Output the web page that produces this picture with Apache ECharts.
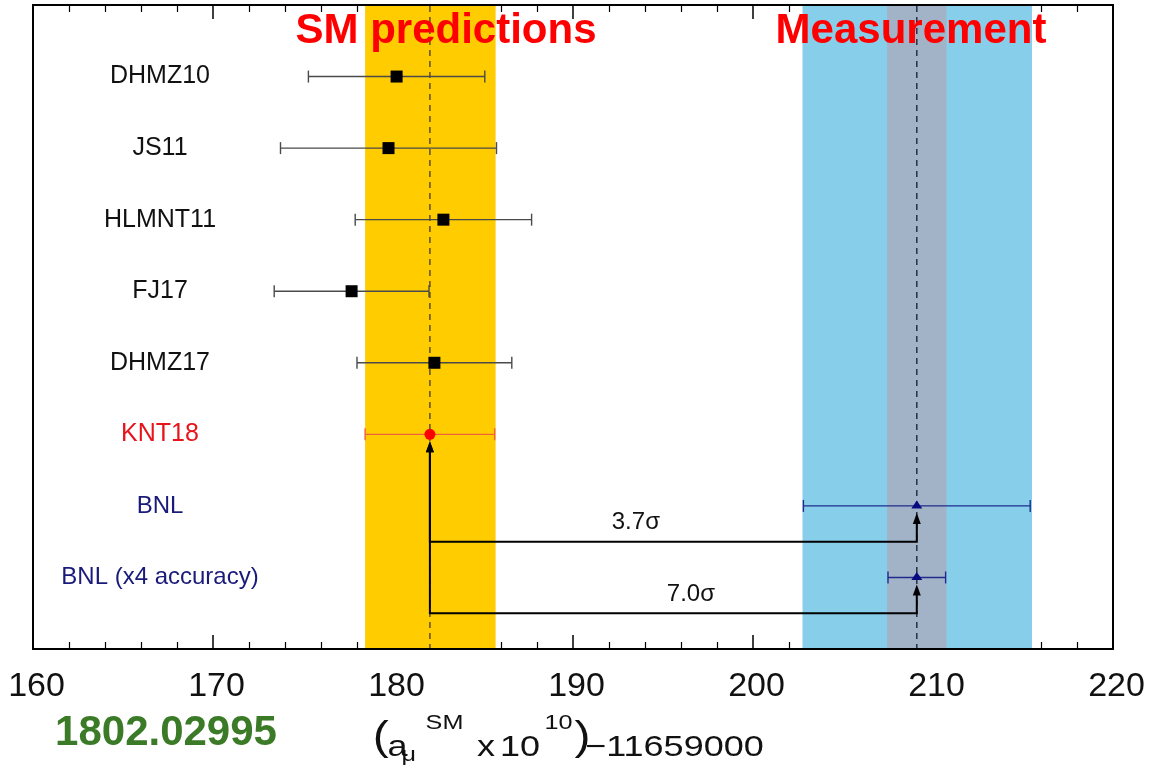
<!DOCTYPE html>
<html>
<head>
<meta charset="utf-8">
<title>Muon g-2: SM predictions vs measurement</title>
<script src="https://cdn.jsdelivr.net/npm/echarts/dist/echarts.min.js"></script>
<style>
  html, body { margin: 0; padding: 0; background: #fff; }
  #chart { width: 1150px; height: 768px; }
</style>
</head>
<body>
<div id="chart"></div>
<script>
// ---- data ---------------------------------------------------------------
const rowLabels = ['DHMZ10', 'JS11', 'HLMNT11', 'FJ17', 'DHMZ17', 'KNT18', 'BNL', 'BNL (x4 accuracy)'];
const rowGroups = ['other', 'other', 'other', 'other', 'other', 'sm', 'exp', 'exp'];
const centralValues = [180.2, 179.75, 182.8, 177.7, 182.3, 182.05, 209.1, 209.1];
const uncertainties = [4.9, 6.0, 4.9, 4.3, 4.3, 3.6, 6.3, 1.6];

// shaded bands: SM (KNT18) 1σ, BNL 1σ, BNL with 4x accuracy
const bandLow  = [178.45, 202.75, 207.45];
const bandHigh = [185.7, 215.5, 210.75];
const bandKinds = ['sm', 'exp', 'expX4'];

// dashed reference lines through these rows' central values
const referenceRows = [5, 6];

// tension brackets between the SM value and the measurement
const tensionFrom = [5, 5];
const tensionTo = [6, 7];
const tensionLabels = ['3.7σ', '7.0σ'];

const xMin = 160, xMax = 220, xStep = 10;
const headings = ['SM predictions', 'Measurement'];
const arxivId = '1802.02995';

// axis title pieces: text, role (n = normal, p = paren, sub, sup)
const titlePieces = ['(', 'a', 'μ', 'SM', 'x', '10', '10', ')', '−11659000'];
const titleRoles  = ['p', 'n', 'sub', 'sup', 'n', 'n', 'sup', 'p', 'n'];

// ---- styling / layout ----------------------------------------------------
const FONT = "'Liberation Sans', Arial, Helvetica, sans-serif";
const GRID = { left: 33, top: 5, width: 1080, height: 644 };
const ROW_LABEL_OFFSET = 127;            // px from plot left to row-label centre
const SIGMA_LABEL_FRAC = [0.423, 0.536]; // label position along each bracket
const BAND_COLORS = { sm: '#ffcc00', exp: '#87ceeb', expX4: '#a2b3c8' };
const GROUP_STYLE = {
  other: { bar: '#4a4a4a', marker: '#000000', text: '#111111', shape: 'square' },
  sm:    { bar: '#f0623a', marker: '#ff0000', text: '#e8141c', shape: 'circle' },
  exp:   { bar: '#1f2b8c', marker: '#0a0a80', text: '#1a1a7a', shape: 'triangle' }
};
const REF_LINE_COLORS = ['#5e4c18', '#26304a'];
// axis-title piece layout (local units, group is stretched horizontally)
const TITLE_X = [-3.5, 8.7, 20.5, 40.5, 83.3, 102.5, 139.5, 164.5, 173.5];
const ROLE_STYLE = {
  n:   { size: 30, dy: 0 },
  p:   { size: 40, dy: -9 },
  sub: { size: 21, dy: 7 },
  sup: { size: 21, dy: -25 }
};

const chart = echarts.init(document.getElementById('chart'), null, { renderer: 'canvas' });

const rowData = centralValues.map((c, i) => [c, i, c - uncertainties[i], c + uncertainties[i]]);

function markerShape(shape, x, y, color) {
  if (shape === 'square') {
    return { type: 'rect', shape: { x: x - 6, y: y - 6, width: 12, height: 12 }, style: { fill: color } };
  }
  if (shape === 'circle') {
    return { type: 'circle', shape: { cx: x, cy: y, r: 5.5 }, style: { fill: color } };
  }
  return { type: 'polygon', shape: { points: [[x, y - 5.5], [x - 5.5, y + 2.5], [x + 5.5, y + 2.5]] }, style: { fill: color } };
}

const axisCommon = {
  type: 'value', min: xMin, max: xMax, interval: xStep,
  splitLine: { show: false },
  axisLine: { show: false, onZero: false },
  axisTick: { show: true, inside: true, length: 14, lineStyle: { color: '#000', width: 1.5 } },
  minorTick: { show: true, splitNumber: 5, length: 7, lineStyle: { color: '#000', width: 1.2 } },
  minorSplitLine: { show: false }
};

const option = {
  animation: false,
  backgroundColor: '#ffffff',
  textStyle: { fontFamily: FONT },
  grid: Object.assign({ show: true, borderColor: '#000', borderWidth: 2, backgroundColor: '#fff', containLabel: false }, GRID),
  xAxis: [
    Object.assign({}, axisCommon, {
      position: 'bottom',
      axisLabel: { show: true, fontSize: 34, color: '#111', margin: 21, fontFamily: FONT, padding: [0, 0, 0, 7] }
    }),
    Object.assign({}, axisCommon, { position: 'top', axisLabel: { show: false } })
  ],
  yAxis: { type: 'value', min: -1, max: 8, inverse: true, show: false },
  series: [
    {
      // shaded 1σ bands
      type: 'custom', z: 1, silent: true,
      data: bandLow.map((lo, i) => [lo, bandHigh[i], i]),
      encode: { x: [0, 1] },
      renderItem(params, api) {
        const cs = params.coordSys;
        const x1 = api.coord([api.value(0), 0])[0];
        const x2 = api.coord([api.value(1), 0])[0];
        return {
          type: 'rect',
          shape: { x: x1, y: cs.y + 1, width: x2 - x1, height: cs.height - 2 },
          style: { fill: BAND_COLORS[bandKinds[api.value(2)]] }
        };
      }
    },
    {
      // dashed central-value lines
      type: 'custom', z: 2, silent: true,
      data: referenceRows.map((r, i) => [centralValues[r], i]),
      encode: { x: 0 },
      renderItem(params, api) {
        const cs = params.coordSys;
        const x = api.coord([api.value(0), 0])[0];
        return {
          type: 'line',
          shape: { x1: x, y1: cs.y + 1, x2: x, y2: cs.y + cs.height - 1 },
          style: { stroke: REF_LINE_COLORS[api.value(1)], lineWidth: 1.5, lineDash: [6, 5] }
        };
      }
    },
    {
      // values with horizontal error bars
      type: 'custom', z: 3, silent: true,
      data: rowData,
      encode: { x: [0, 2, 3], y: 1 },
      renderItem(params, api) {
        const row = api.value(1);
        const st = GROUP_STYLE[rowGroups[row]];
        const c = api.coord([api.value(0), row]);
        const lo = api.coord([api.value(2), row]);
        const hi = api.coord([api.value(3), row]);
        const ls = { stroke: st.bar, lineWidth: 1.4 };
        return {
          type: 'group',
          children: [
            { type: 'line', shape: { x1: lo[0], y1: c[1], x2: hi[0], y2: c[1] }, style: ls },
            { type: 'line', shape: { x1: lo[0], y1: c[1] - 6, x2: lo[0], y2: c[1] + 6 }, style: ls },
            { type: 'line', shape: { x1: hi[0], y1: c[1] - 6, x2: hi[0], y2: c[1] + 6 }, style: ls },
            markerShape(st.shape, c[0], c[1], st.marker)
          ]
        };
      }
    },
    {
      // brackets with arrows showing the tension
      type: 'custom', z: 4, silent: true,
      data: tensionFrom.map((f, i) => [centralValues[f], f, centralValues[tensionTo[i]], tensionTo[i], i]),
      encode: { x: [0, 2], y: [1, 3] },
      renderItem(params, api) {
        const i = api.value(4);
        const fromRow = api.value(1), toRow = api.value(3);
        const barRow = toRow + 0.5;
        const a = api.coord([api.value(0), fromRow]);
        const b = api.coord([api.value(2), toRow]);
        const yBar = api.coord([api.value(0), barRow])[1];
        const gap = 7, head = 11, half = 4;
        const ls = { stroke: '#000', lineWidth: 2, fill: null };
        const arrowHead = (x, y) => ({
          type: 'polygon',
          shape: { points: [[x, y + gap], [x - half, y + gap + head], [x + half, y + gap + head]] },
          style: { fill: '#000' }
        });
        const labelX = a[0] + (b[0] - a[0]) * SIGMA_LABEL_FRAC[i];
        return {
          type: 'group',
          children: [
            {
              type: 'polyline',
              shape: { points: [[a[0], a[1] + gap + head - 1], [a[0], yBar], [b[0], yBar], [b[0], b[1] + gap + head - 1]] },
              style: ls
            },
            arrowHead(a[0], a[1]),
            arrowHead(b[0], b[1]),
            {
              type: 'text',
              style: {
                x: labelX, y: yBar - 19, text: tensionLabels[i],
                fontSize: 24, fontFamily: FONT, fill: '#111',
                align: 'center', verticalAlign: 'middle'
              }
            }
          ]
        };
      }
    },
    {
      // row labels inside the plot
      type: 'custom', z: 5, silent: true,
      data: rowLabels.map((t, i) => [xMin, i]),
      encode: { x: 0, y: 1 },
      renderItem(params, api) {
        const row = api.value(1);
        const st = GROUP_STYLE[rowGroups[row]];
        const y = api.coord([xMin, row])[1];
        return {
          type: 'text',
          style: {
            x: params.coordSys.x + ROW_LABEL_OFFSET, y: y,
            text: rowLabels[row],
            fontSize: rowGroups[row] === 'exp' ? 24 : 25,
            fontFamily: FONT, fill: st.text,
            align: 'center', verticalAlign: 'middle'
          }
        };
      }
    }
  ],
  graphic: [
    {
      type: 'text', z: 100, silent: true,
      style: { x: 446, y: 31, text: headings[0], fontSize: 42, fontWeight: 'bold', fontFamily: FONT,
               fill: '#ff0000', align: 'center', verticalAlign: 'middle' }
    },
    {
      type: 'text', z: 100, silent: true,
      style: { x: 911, y: 31, text: headings[1], fontSize: 42, fontWeight: 'bold', fontFamily: FONT,
               fill: '#ff0000', align: 'center', verticalAlign: 'middle' }
    },
    {
      type: 'text', z: 100, silent: true,
      style: { x: 166, y: 733, text: arxivId, fontSize: 42, fontWeight: 'bold', fontFamily: FONT,
               fill: '#3b7a27', align: 'center', verticalAlign: 'middle' }
    },
    {
      // axis title: (a_μ^SM x 10^10) − 11659000
      type: 'group', x: 377, y: 748, scaleX: 1.2, z: 100, silent: true,
      children: titlePieces.map((t, i) => {
        const rs = ROLE_STYLE[titleRoles[i]];
        return {
          type: 'text', x: TITLE_X[i], y: rs.dy,
          style: { text: t, fontSize: rs.size, fontFamily: FONT, fill: '#111', align: 'left', verticalAlign: 'middle' }
        };
      })
    }
  ]
};

chart.setOption(option);
</script>
</body>
</html>
